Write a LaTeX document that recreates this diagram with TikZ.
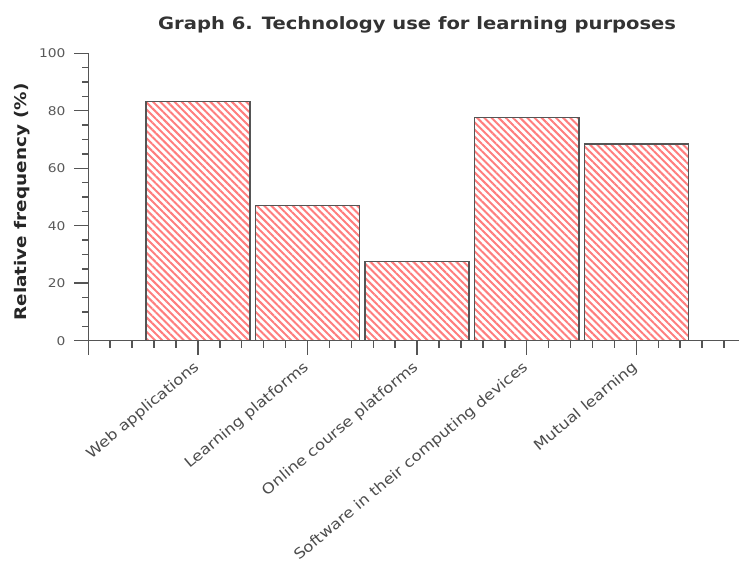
\documentclass[tikz,border=0pt]{standalone}
\usepackage{fontspec}
\setmainfont{DejaVu Sans}[FakeStretch=1.15]
\usetikzlibrary{patterns.meta}
\definecolor{axisgray}{RGB}{85,85,85}
\definecolor{hatchred}{RGB}{255,125,125}

\begin{document}
\begin{tikzpicture}[x=82.2pt, y=2.1555pt,
  axis/.style={draw=axisgray, line width=1.1pt},
  bar/.style={draw=axisgray, line width=1.1pt, pattern={Lines[angle=-45, distance=3.8pt, line width=1.5pt]}, pattern color=hatchred},
  num/.style={text=black!65, font=\fontsize{9}{11}\selectfont, anchor=east, inner sep=0pt},
  cat/.style={text=black!70, font=\fontsize{10.8}{13}\selectfont, anchor=east, rotate=40, inner sep=0pt}]
\useasboundingbox (-66.225pt,-168.2pt) rectangle (488pt,255.5pt);

% bars
\foreach \v [count=\i] in {83.2, 47.0, 27.5, 77.7, 68.4}
  \draw[bar] (\i-0.475,0) rectangle (\i+0.475,\v);

% axes and ticks
\draw[axis] (0,100) -- (0,0) -- (5.94,0);
\foreach \k in {0,...,29} \draw[axis] (\k/5,0) -- ++(0,-5.25pt);
\foreach \k in {0,...,20} \draw[axis] (0,\k*5) -- ++(-4.5pt,0);
\foreach \k in {0,...,5} {
  \draw[axis] (\k,0) -- ++(0,-10.5pt);
  \coordinate (t\k) at (\k,0);
  \pgfmathtruncatemacro\lab{\k*20}
  \draw[axis] (0,\k*20) -- ++(-10.5pt,0);
  \node[num] (y\k) at ([xshift=-17pt]0,\k*20) {\lab};
}

% category labels
\foreach \n/\t [count=\i] in {web/Web applications, lms/Learning platforms, mooc/Online course platforms, soft/Software in their computing devices, mutual/Mutual learning}
  \node[cat] (\n) at ([xshift=-0.5pt, yshift=-18.5pt]t\i) {\t};

\node[text=black!80, font=\bfseries\fontsize{12.75}{15}\selectfont, anchor=base] (title) at (3,108.1) {Graph 6. Technology use for learning purposes};
\node[text=black!85, font=\bfseries\fontsize{12}{14}\selectfont, rotate=90] (ylab) at (-0.608,48.3) {Relative frequency (\%)};
\end{tikzpicture}
\end{document}
